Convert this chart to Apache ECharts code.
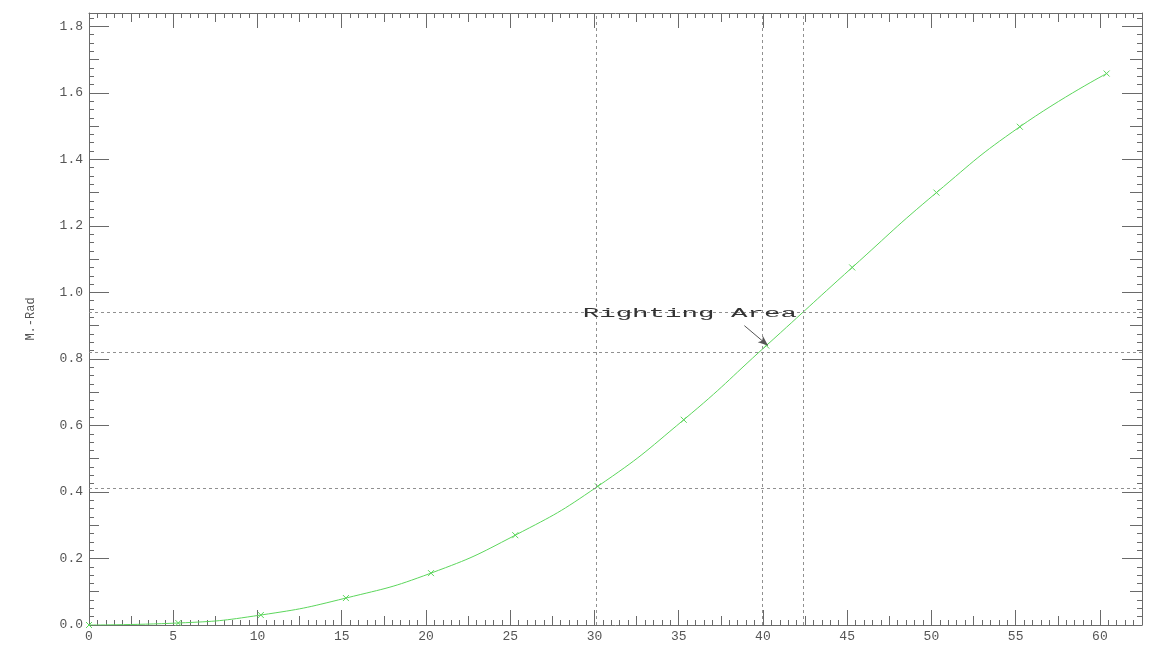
<!DOCTYPE html>
<html>
<head>
<meta charset="utf-8">
<script src="https://cdn.jsdelivr.net/npm/echarts@6/dist/echarts.min.js"></script>
<style>html,body{margin:0;padding:0;background:#fff;}#c{width:1150px;height:646px;}</style>
</head>
<body>
<div id="c"></div>
<script>
// ---- data ----
const angles = [0, 5.3, 10.2, 15.25, 20.3, 25.3, 30.2, 35.3, 40.2, 45.3, 50.3, 55.25, 60.4];
const moments = [0, 0.006, 0.03, 0.081, 0.156, 0.27, 0.417, 0.617, 0.84, 1.075, 1.30, 1.498, 1.658];
const hLines = [0.937, 0.823, 0.405];
const vLines = [30.1, 39.95, 42.4];
const arrowFrom = [38.9, 0.90];
const arrowTo = [40.3, 0.84];
const annotationText = 'Righting Area';
const annotationAt = [29.3, 0.937];
const yName = 'M.-Rad';

const font = 'Liberation Mono';
const axisCol = '#6a6a6a';
const green = '#5cd65c';

const xMin = 0, xMax = 62.5, yMin = 0, yMax = 1.84;

function xAx(pos, interval, len, withMinor, withLabel, withLine) {
  return {
    type: 'value', position: pos, min: xMin, max: xMax, interval: interval,
    axisLine: { show: withLine, onZero: false, lineStyle: { color: axisCol, width: 1 } },
    axisTick: { show: true, inside: true, length: len, lineStyle: { color: axisCol } },
    minorTick: { show: withMinor, splitNumber: 10, length: 5, lineStyle: { color: axisCol } },
    splitLine: { show: false },
    axisLabel: { show: withLabel, showMaxLabel: false, margin: 5, fontFamily: font, fontSize: 13, color: '#555',
      formatter: v => String(Math.round(v)) }
  };
}
function yAx(pos, interval, len, withMinor, withLabel, withLine) {
  const a = {
    type: 'value', position: pos, min: yMin, max: yMax, interval: interval,
    axisLine: { show: withLine, onZero: false, lineStyle: { color: axisCol, width: 1 } },
    axisTick: { show: true, inside: true, length: len, lineStyle: { color: axisCol } },
    minorTick: { show: withMinor, splitNumber: 8, length: 5, lineStyle: { color: axisCol } },
    splitLine: { show: false },
    axisLabel: { show: withLabel, showMaxLabel: false, margin: 6, fontFamily: font, fontSize: 13, color: '#555',
      formatter: v => v.toFixed(1) }
  };
  if (withLabel) {
    a.name = yName; a.nameLocation = 'middle'; a.nameRotate = 90; a.nameGap = 52;
    a.nameTextStyle = { fontFamily: font, fontSize: 12, color: '#555' };
  }
  return a;
}

const chart = echarts.init(document.getElementById('c'), null, { renderer: 'canvas' });
const lineData = angles.map((a, i) => [a, moments[i]]);

const dashed = { type: [3, 3], color: '#909090', width: 1 };
const markLines = [];
hLines.forEach(v => markLines.push({ yAxis: v, lineStyle: dashed }));
vLines.forEach(v => markLines.push({ xAxis: v, lineStyle: dashed }));
markLines.push([
  { coord: arrowFrom, symbol: 'none', lineStyle: { type: 'solid', color: '#555', width: 1 } },
  { coord: arrowTo, symbol: 'arrow', symbolSize: [6, 10] }
]);

chart.setOption({
  animation: false,
  backgroundColor: '#fff',
  grid: { left: 89, right: 8, top: 13, bottom: 21, containLabel: false },
  xAxis: [
    xAx('bottom', 5, 15, true, true, true),
    xAx('bottom', 2.5, 9, false, false, false),
    xAx('top', 5, 15, true, false, true),
    xAx('top', 2.5, 9, false, false, false)
  ],
  yAxis: [
    yAx('left', 0.2, 20, true, true, true),
    yAx('left', 0.1, 10, false, false, false),
    yAx('right', 0.2, 20, true, false, true),
    yAx('right', 0.1, 12, false, false, false)
  ],
  series: [{
    type: 'line', xAxisIndex: 0, yAxisIndex: 0,
    data: lineData,
    smooth: 0.5,
    showSymbol: true,
    symbol: 'path://M0,0L10,10M10,0L0,10',
    symbolSize: 6,
    itemStyle: { color: 'rgba(0,0,0,0)', borderColor: green, borderWidth: 1 },
    lineStyle: { color: green, width: 1 },
    markLine: {
      silent: true, symbol: 'none', label: { show: false },
      animation: false,
      data: markLines
    },
    z: 3
  }]
});

const p = chart.convertToPixel({ xAxisIndex: 0, yAxisIndex: 0 }, annotationAt);
chart.setOption({
  graphic: [{
    type: 'text', x: p[0], y: p[1], scaleX: 2.29, scaleY: 1, z: 10,
    style: { text: annotationText, fontFamily: font, fontSize: 12, fill: '#333', verticalAlign: 'middle', align: 'left' }
  }]
});
</script>
</body>
</html>
